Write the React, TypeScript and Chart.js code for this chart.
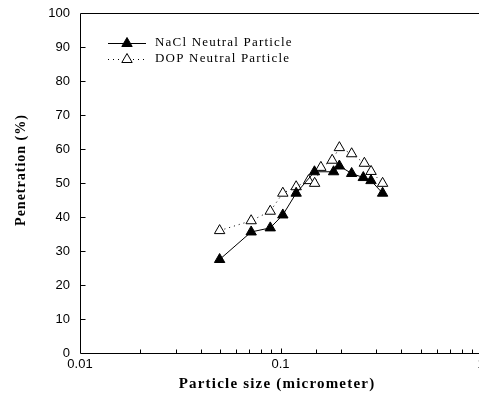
import React, { useEffect, useRef } from "react";
import { Chart, registerables } from "chart.js";
Chart.register(...registerables);

const naclSize = [0.0497, 0.0714, 0.0889, 0.1027, 0.1197, 0.1477, 0.184, 0.1966, 0.2264, 0.2588, 0.2827, 0.323];
const naclPen = [27.5, 35.6, 36.8, 40.6, 47, 53.3, 53.3, 55, 52.8, 51.6, 50.7, 47];
const dopSize = [0.0497, 0.0714, 0.0889, 0.1027, 0.1197, 0.138, 0.148, 0.159, 0.181, 0.1966, 0.2264, 0.262, 0.283, 0.323];
const dopPen = [36, 38.9, 41.7, 47, 48.9, 50.7, 49.9, 54.6, 56.7, 60.4, 58.6, 55.8, 53.4, 49.9];
const yTicks = [0, 10, 20, 30, 40, 50, 60, 70, 80, 90, 100];
const seriesNames = ["NaCl Neutral Particle", "DOP Neutral Particle"];
const xTitle = "Particle size (micrometer)";
const yTitle = "Penetration (%)";

const framePlugin = {
  id: "frame",
  afterDraw(chart: any) {
    const { ctx, chartArea: a, scales } = chart;
    const xs = scales.x;
    const ys = scales.y;
    ctx.save();
    ctx.strokeStyle = "#000";
    ctx.lineWidth = 1;
    ctx.beginPath();
    const L = Math.round(a.left) + 0.5;
    const B = Math.round(a.bottom) + 0.5;
    const T = Math.round(a.top) + 0.5;
    ctx.moveTo(L, T);
    ctx.lineTo(L, B);
    ctx.lineTo(a.right, B);
    ctx.moveTo(L, T);
    ctx.lineTo(a.right, T);
    for (const v of yTicks) {
      if (v === 0 || v === 100) continue;
      const y = Math.round(ys.getPixelForValue(v)) + 0.5;
      ctx.moveTo(L, y);
      ctx.lineTo(L + 5, y);
    }
    for (const t of xs.ticks) {
      const v = t.value;
      const l = Math.log10(v);
      const major = Math.abs(l - Math.round(l)) < 1e-9;
      if (v <= xs.min + 1e-12) continue;
      const x = Math.round(xs.getPixelForValue(v)) + 0.5;
      ctx.moveTo(x, B);
      ctx.lineTo(x, B - (major ? 5 : 4));
    }
    ctx.stroke();

    ctx.fillStyle = "#000";
    ctx.textAlign = "center";
    ctx.textBaseline = "middle";
    ctx.font = "bold 15px 'Liberation Serif'";
    (ctx as any).letterSpacing = "1.2px";
    ctx.fillText(xTitle, 277, 384);
    ctx.font = "bold 14px 'Liberation Serif'";
    (ctx as any).letterSpacing = "1px";
    ctx.save();
    ctx.translate(21, 170);
    ctx.rotate(-Math.PI / 2);
    ctx.fillText(yTitle, 0, 0);
    ctx.restore();

    ctx.font = "13px 'Liberation Serif'";
    (ctx as any).letterSpacing = "1.2px";
    ctx.textAlign = "left";
    const rows = [43, 59];
    chart.data.datasets.forEach((ds: any, i: number) => {
      const y = rows[i] + 0.5;
      ctx.beginPath();
      ctx.setLineDash(ds.borderDash || []);
      ctx.moveTo(108, y);
      ctx.lineTo(146, y);
      ctx.stroke();
      ctx.setLineDash([]);
      const r = 6;
      const cx = 127;
      ctx.beginPath();
      for (let k = 0; k < 3; k++) {
        const ang = (k * 2 * Math.PI) / 3;
        const px = cx + Math.sin(ang) * r;
        const py = y - Math.cos(ang) * r;
        if (k === 0) ctx.moveTo(px, py);
        else ctx.lineTo(px, py);
      }
      ctx.closePath();
      ctx.fillStyle = ds.pointBackgroundColor;
      ctx.fill();
      ctx.stroke();
      ctx.fillStyle = "#000";
      ctx.fillText(seriesNames[i], 155, rows[i]);
    });
    ctx.restore();
  },
};

export default function App() {
  const ref = useRef<HTMLCanvasElement>(null);
  useEffect(() => {
    document.body.style.margin = "0";
    const chart = new Chart(ref.current!, {
      type: "line",
      data: {
        datasets: [
          {
            label: seriesNames[0],
            data: naclSize.map((x, i) => ({ x, y: naclPen[i] })),
            borderColor: "#000",
            borderWidth: 1,
            pointStyle: "triangle",
            pointRadius: 6,
            pointBackgroundColor: "#000",
            pointBorderColor: "#000",
            pointBorderWidth: 1,
            tension: 0,
          },
          {
            label: seriesNames[1],
            data: dopSize.map((x, i) => ({ x, y: dopPen[i] })),
            borderColor: "#000",
            borderWidth: 1,
            borderDash: [1, 4],
            pointStyle: "triangle",
            pointRadius: 6,
            pointBackgroundColor: "#fff",
            pointBorderColor: "#000",
            pointBorderWidth: 1,
            tension: 0,
          },
        ],
      },
      options: {
        responsive: false,
        animation: false,
        layout: { padding: { top: 13, right: 0, left: 0, bottom: 0 } },
        plugins: { legend: { display: false }, tooltip: { enabled: false }, title: { display: false } },
        scales: {
          x: {
            type: "logarithmic",
            min: 0.01,
            max: 1,
            grid: { display: false, drawTicks: false },
            border: { display: false },
            ticks: {
              autoSkip: false,
              maxRotation: 0,
              padding: 4,
              color: "#000",
              font: { family: "'Liberation Sans'", size: 13 },
              callback: (v: any) => {
                const l = Math.log10(v);
                return Math.abs(l - Math.round(l)) < 1e-9 ? String(v) : "";
              },
            },
            afterFit: (s: any) => {
              s.height = 43;
              s.paddingRight = 0;
              s.paddingLeft = 0;
            },
          },
          y: {
            min: 0,
            max: 100,
            grid: { display: false, drawTicks: false },
            border: { display: false },
            ticks: {
              stepSize: 10,
              padding: 10,
              color: "#000",
              font: { family: "'Liberation Sans'", size: 13 },
            },
            afterFit: (s: any) => {
              s.width = 80;
              s.paddingTop = 0;
              s.paddingBottom = 0;
            },
          },
        },
      } as any,
      plugins: [framePlugin],
    });
    return () => chart.destroy();
  }, []);
  return (
    <div style={{ width: 479, height: 396, overflow: "hidden", position: "relative" }}>
      <canvas ref={ref} width={488} height={396} style={{ display: "block" }} />
    </div>
  );
}
